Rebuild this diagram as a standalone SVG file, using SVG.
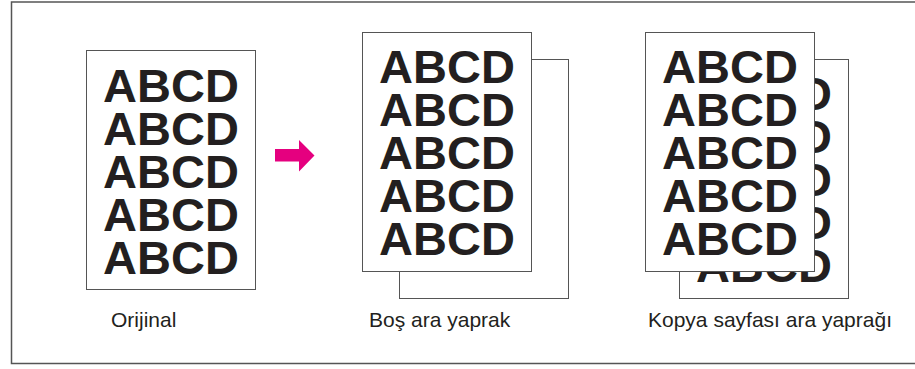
<svg xmlns="http://www.w3.org/2000/svg" width="915" height="369" viewBox="0 0 915 369">
  <style>
    .frame { fill: none; stroke: #555; stroke-width: 1.5; }
    .page { fill: #fff; stroke: #555; stroke-width: 1; }
    .big { font-family: "Liberation Sans", Arial, sans-serif; font-weight: bold; font-size: 47px; fill: #231f20; text-anchor: middle; }
    .lbl { font-family: "Liberation Sans", Arial, sans-serif; font-size: 21px; fill: #231f20; }
  </style>
  <rect width="915" height="369" fill="#fff"/>
  <path class="frame" d="M915,2 H11.5 V363.5 H915"/>

  <g id="original">
    <rect class="page" x="86.5" y="50.5" width="169" height="239"/>
    <text class="big" x="171" y="102">ABCD</text>
    <text class="big" x="171" y="145">ABCD</text>
    <text class="big" x="171" y="188">ABCD</text>
    <text class="big" x="171" y="231">ABCD</text>
    <text class="big" x="171" y="274">ABCD</text>
    <text class="lbl" x="111" y="327">Orijinal</text>
  </g>

  <g id="connectors">
    <polygon points="275,149 299,149 299,140 314.5,155.5 299,171.5 299,161.5 275,161.5" fill="#e5007f"/>
  </g>

  <g id="blank-insert">
    <rect class="page" x="399.5" y="59.5" width="169" height="239"/>
    <rect class="page" x="362.5" y="32.5" width="169" height="239"/>
    <text class="big" x="447" y="83">ABCD</text>
    <text class="big" x="447" y="126">ABCD</text>
    <text class="big" x="447" y="169">ABCD</text>
    <text class="big" x="447" y="212">ABCD</text>
    <text class="big" x="447" y="255">ABCD</text>
    <text class="lbl" x="369" y="327">Boş ara yaprak</text>
  </g>

  <g id="copy-insert">
    <rect class="page" x="679.5" y="59.5" width="169" height="239"/>
    <text class="big" x="764" y="110">ABCD</text>
    <text class="big" x="764" y="153">ABCD</text>
    <text class="big" x="764" y="196">ABCD</text>
    <text class="big" x="764" y="239">ABCD</text>
    <text class="big" x="764" y="282">ABCD</text>
    <rect class="page" x="645.5" y="32.5" width="169" height="239"/>
    <text class="big" x="730" y="83">ABCD</text>
    <text class="big" x="730" y="126">ABCD</text>
    <text class="big" x="730" y="169">ABCD</text>
    <text class="big" x="730" y="212">ABCD</text>
    <text class="big" x="730" y="255">ABCD</text>
    <text class="lbl" x="648" y="327">Kopya sayfası ara yaprağı</text>
  </g>
</svg>
